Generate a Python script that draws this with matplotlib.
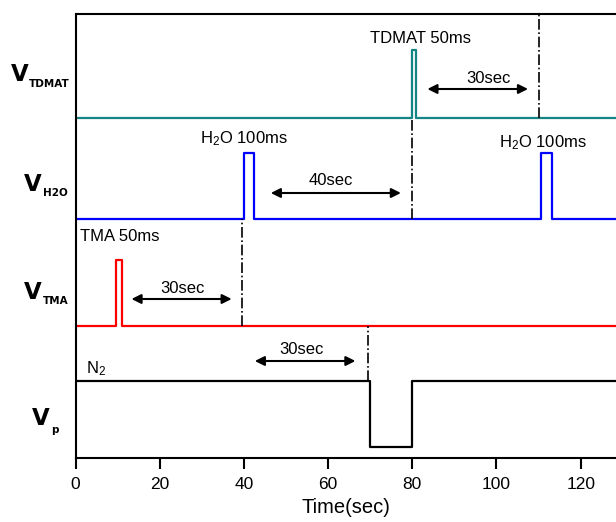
import matplotlib
matplotlib.use("Agg")
import matplotlib.pyplot as plt

plt.rcParams['font.family'] = ['Liberation Sans', 'DejaVu Sans']
plt.rcParams['mathtext.default'] = 'regular'

# pulse sequences (time in sec, state 0/1)
tdmat_t = [0, 80, 80, 81, 81, 130]
tdmat_s = [0, 0, 1, 1, 0, 0]
h2o_t = [0, 40, 40, 42.3, 42.3, 110.5, 110.5, 113.2, 113.2, 130]
h2o_s = [0, 0, 1, 1, 0, 0, 1, 1, 0, 0]
tma_t = [0, 9.7, 9.7, 11.1, 11.1, 130]
tma_s = [0, 0, 1, 1, 0, 0]
vp_t = [0, 70, 70, 80, 80, 130]
vp_s = [1, 1, 0, 0, 1, 1]

# channel baselines / pulse heights (arbitrary vertical units)
base = {'tdmat': 340, 'h2o': 239, 'tma': 132, 'vp': 11}
amp = {'tdmat': 68, 'h2o': 66, 'tma': 66, 'vp': 66}

# purge markers: time, y from, y to
purge_marks = [(110, 340, 444), (80, 239, 340), (39.6, 132, 239), (69.6, 77, 132)]
# interval arrows: start, end, y, label, label x, label y
intervals = [(83.6, 107.5, 369, '30sec', 98, 375),
             (46.4, 77.3, 265, '40sec', 60.6, 273),
             (13.3, 37.1, 159, '30sec', 25.3, 165),
             (42.6, 66.5, 97, '30sec', 53.8, 104)]
notes = [('TDMAT 50ms', 70, 415), ('H$_2$O 100ms', 29.5, 315),
         ('H$_2$O 100ms', 100.6, 311), ('TMA 50ms', 1.1, 217),
         ('N$_2$', 2.5, 85)]

fig = plt.figure(figsize=(6.16, 5.22), dpi=100)
ax = fig.add_axes([75.5 / 616, 1 - 458 / 522, 1 - 75.5 / 616, (458 - 14) / 522])

ax.plot(tdmat_t, [base['tdmat'] + amp['tdmat'] * s for s in tdmat_s], color='#138585', lw=1.6)
ax.plot(h2o_t, [base['h2o'] + amp['h2o'] * s for s in h2o_s], color='#0000ff', lw=1.6)
ax.plot(tma_t, [base['tma'] + amp['tma'] * s for s in tma_s], color='#ff0000', lw=1.6)
ax.plot(vp_t, [base['vp'] + amp['vp'] * s for s in vp_s], color='black', lw=1.6)

for t, y0, y1 in purge_marks:
    ax.plot([t, t], [y0, y1], color='black', lw=1.2, ls='-.')

for a, b, y, lab, lx, ly in intervals:
    ax.annotate('', xy=(b, y), xytext=(a, y),
                arrowprops=dict(arrowstyle='<|-|>', color='black', lw=1.5,
                                mutation_scale=14, shrinkA=0, shrinkB=0))
    ax.text(lx, ly, lab, ha='center', va='baseline', fontsize=12)

for lab, x, y in notes:
    ax.text(x, y, lab, ha='left', va='baseline', fontsize=12)

ax.set_xlim(0, 128.4)
ax.set_ylim(0, 444)
ax.set_xticks([0, 20, 40, 60, 80, 100, 120])
ax.set_yticks([])
ax.tick_params(axis='x', direction='out', length=8, width=1.5, labelsize=12.5, pad=6)
for sp in ax.spines.values():
    sp.set_linewidth(1.5)
ax.spines['right'].set_visible(False)
ax.set_xlabel('Time(sec)', fontsize=14.5, labelpad=4)

# channel labels
ylabels = [('TDMAT', 11, 81, 29, 87), ('H2O', 24, 191, 43, 196),
           ('TMA', 24, 299, 43, 304), ('p', 32, 425, 51, 433)]
for sub, vx, vy, sx, sy in ylabels:
    fig.text(vx / 616, 1 - vy / 522, 'V', fontsize=16.5, fontweight='bold',
             family='DejaVu Sans', va='baseline')
    fig.text(sx / 616, 1 - sy / 522, sub, fontsize=7.5, fontweight='bold',
             family='DejaVu Sans', va='baseline')

fig.savefig('out.png', dpi=100)
